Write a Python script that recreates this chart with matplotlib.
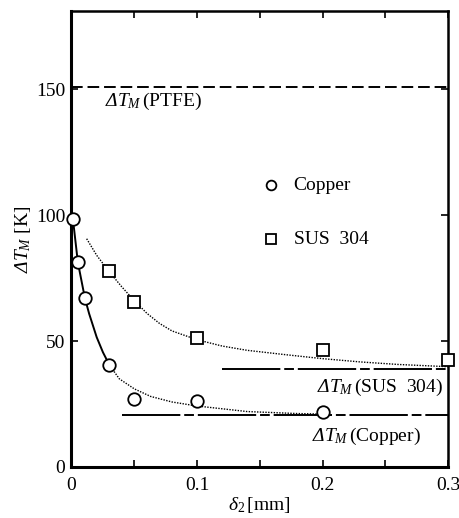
import matplotlib
matplotlib.use("Agg")
import matplotlib.pyplot as plt
from matplotlib.ticker import MultipleLocator

plt.rcParams['font.family'] = ['Liberation Serif', 'DejaVu Serif']
plt.rcParams['mathtext.fontset'] = 'custom'
plt.rcParams['mathtext.rm'] = 'Liberation Serif:italic'
plt.rcParams['mathtext.it'] = 'Liberation Serif:italic'
plt.rcParams['mathtext.sf'] = 'Liberation Serif'

# Measured data
cu_x = [0.001, 0.005, 0.0106, 0.030, 0.050, 0.100, 0.200]
cu_y = [98.6, 81.2, 67.0, 40.6, 27.1, 26.0, 21.8]
sus_x = [0.0296, 0.050, 0.100, 0.200, 0.300]
sus_y = [77.7, 65.5, 51.0, 46.3, 42.3]

# Fitted curves
cu_solid_x = [0.001, 0.005, 0.0106, 0.014, 0.020, 0.025, 0.030]
cu_solid_y = [98.6, 81.2, 67.0, 60.8, 51.5, 45.5, 40.6]
cu_dot_x = [0.030, 0.038, 0.050, 0.063, 0.080, 0.100, 0.140, 0.180, 0.200]
cu_dot_y = [40.6, 35.0, 31.0, 28.0, 25.8, 24.2, 22.0, 21.2, 21.0]
sus_dot_x = [0.012, 0.020, 0.030, 0.040, 0.050, 0.060, 0.070, 0.080, 0.100,
             0.120, 0.140, 0.170, 0.200, 0.230, 0.260, 0.300]
sus_dot_y = [90.6, 84.0, 77.5, 71.5, 66.0, 61.0, 57.0, 54.0, 50.5,
             48.0, 46.3, 44.6, 43.0, 41.7, 40.7, 39.8]

# Limiting values
ptfe_y = 151.0
sus_lim_y = 38.8
sus_lim_x = [0.120, 0.300]
cu_lim_y = 20.5
cu_lim_x = [0.040, 0.300]

xticks = [0, 0.1, 0.2, 0.3]
xticklabels = ['0', '0.1', '0.2', '0.3']
yticks = [0, 50, 100, 150]

fig = plt.figure(figsize=(4.6, 5.18), dpi=100)
ax = fig.add_axes([0.1543, 0.0985, 0.8196, 0.8803])

ax.set_xlim(-0.0005, 0.2995)
ax.set_ylim(0, 181)

# curves
ax.plot(cu_solid_x, cu_solid_y, color='black', lw=1.4, zorder=2)
ax.plot(cu_dot_x, cu_dot_y, color='black', lw=1.0, ls=(0, (1, 1)), zorder=2)
ax.plot(sus_dot_x, sus_dot_y, color='black', lw=1.0, ls=(0, (1, 1)), zorder=2)

# limit lines
ax.axhline(ptfe_y, color='black', lw=1.4, ls=(0, (6, 2.5)), zorder=2)
ax.plot(sus_lim_x, [sus_lim_y, sus_lim_y], color='black', lw=1.4,
        ls=(0, (30, 2, 5, 2)), zorder=2)
ax.plot(cu_lim_x, [cu_lim_y, cu_lim_y], color='black', lw=1.4,
        ls=(0, (30, 2, 5, 2)), zorder=2)

# markers
ax.plot(cu_x, cu_y, ls='none', marker='o', ms=9, mfc='white', mec='black',
        mew=1.3, zorder=3, clip_on=False)
ax.plot(sus_x, sus_y, ls='none', marker='s', ms=8.5, mfc='white', mec='black',
        mew=1.3, zorder=3, clip_on=False)

# legend (drawn manually)
ax.plot([0.159], [111.8], ls='none', marker='o', ms=7, mfc='white', mec='black', mew=1.3)
ax.text(0.177, 111.8, 'Copper', fontsize=14, va='center', ha='left')
ax.plot([0.159], [90.3], ls='none', marker='s', ms=6.5, mfc='white', mec='black', mew=1.3)
ax.text(0.177, 90.3, 'SUS  304', fontsize=14, va='center', ha='left')

# line labels
ax.text(0.0266, 145, r'$\Delta T_M\,$(PTFE)', fontsize=14, va='center', ha='left')
ax.text(0.2965, 31.4, r'$\Delta T_M\,$(SUS  304)', fontsize=14, va='center', ha='right')
ax.text(0.192, 12.0, r'$\Delta T_M\,$(Copper)', fontsize=14, va='center', ha='left')

# axes styling
ax.set_xticks(xticks)
ax.set_xticklabels(xticklabels)
ax.set_yticks(yticks)
ax.xaxis.set_minor_locator(MultipleLocator(0.05))
ax.tick_params(axis='both', which='both', direction='in', top=True, right=True,
               length=5, width=1.2, labelsize=14)
ax.tick_params(axis='x', pad=7)
ax.tick_params(axis='y', pad=4)
for side in ['left', 'bottom']:
    ax.spines[side].set_linewidth(2.2)
for side in ['top', 'right']:
    ax.spines[side].set_linewidth(1.8)

ax.set_ylabel(r'$\Delta T_M$ [K]', fontsize=14, labelpad=2)
ax.set_xlabel(r'$\delta_{\mathsf{2}}\,$[mm]', fontsize=14, labelpad=1)

fig.savefig('out.png', dpi=100)
